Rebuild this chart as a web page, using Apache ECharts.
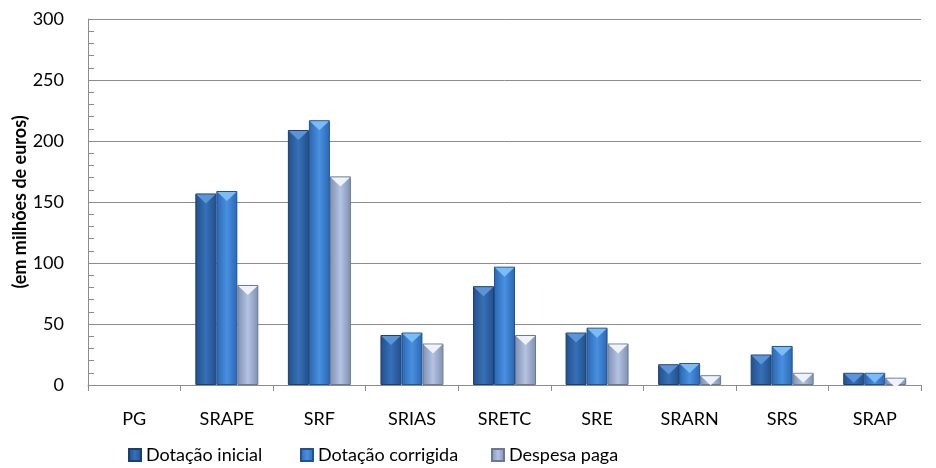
<!DOCTYPE html>
<html>
<head>
<meta charset="utf-8">
<script src="https://cdn.jsdelivr.net/npm/echarts@6/dist/echarts.min.js"></script>
<style>
  html, body { margin: 0; padding: 0; background: #fff; }
  #chart { width: 936px; height: 468px; }
</style>
</head>
<body>
<div id="chart"></div>
<script>
var categorias = ['PG', 'SRAPE', 'SRF', 'SRIAS', 'SRETC', 'SRE', 'SRARN', 'SRS', 'SRAP'];
var dotacaoInicial   = [0, 157, 209, 41, 81, 43, 17, 25, 10];
var dotacaoCorrigida = [0, 159, 217, 43, 97, 47, 18, 32, 10];
var despesaPaga      = [0, 82, 171, 34, 41, 34, 8, 10, 6];

var chart = echarts.init(document.getElementById('chart'));
var fonte = 'Lato, "Liberation Sans", sans-serif';

// gradiente horizontal para imitar o bisel
function bisel(borda, meio) {
    return new echarts.graphic.LinearGradient(0, 0, 1, 0, [
        { offset: 0, color: borda },
        { offset: 0.5, color: meio },
        { offset: 1, color: borda }
    ]);
}

function serieBarra(nome, dados, borda, meio, contorno) {
    return {
        name: nome,
        type: 'bar',
        // barras a zero ficam sem contorno
        data: dados.map(function (v) {
            return v > 0 ? v : { value: v, itemStyle: { borderWidth: 0, opacity: 0 } };
        }),
        barWidth: 21,
        barGap: '0%',
        itemStyle: { color: bisel(borda, meio), borderColor: contorno, borderWidth: 1 }
    };
}

// triângulo claro no topo de cada barra
function serieTopo(nome, dados, cor) {
    return {
        name: nome,
        type: 'pictorialBar',
        data: dados.map(function (v) { return v > 0 ? v : '-'; }),
        barWidth: 21,
        barGap: '0%',
        symbol: 'path://M0,0 L10,0 L5,4 Z',
        symbolSize: [19, 9],
        symbolPosition: 'end',
        symbolOffset: [0, 1],
        itemStyle: { color: cor },
        silent: true,
        z: 3
    };
}

var option = {
    animation: false,
    grid: { left: 88, right: 15, top: 19, bottom: 83, outerBoundsMode: 'none' },
    legend: [
        { data: ['Dotação inicial'], left: 123 },
        { data: ['Dotação corrigida'], left: 295 },
        { data: ['Despesa paga'], left: 486 }
    ].map(function (l) {
        l.top = 441;
        l.icon = 'rect';
        l.itemWidth = 12;
        l.itemHeight = 12;
        l.itemGap = 4;
        l.textStyle = { fontFamily: fonte, fontSize: 18, color: '#000' };
        return l;
    }),
    xAxis: {
        type: 'category',
        data: categorias,
        axisLine: { lineStyle: { color: '#8c8c8c', width: 1 } },
        axisTick: { show: true, length: 6, lineStyle: { color: '#8c8c8c' } },
        axisLabel: { fontFamily: fonte, fontSize: 18, color: '#000', margin: 25 }
    },
    yAxis: {
        type: 'value',
        min: 0,
        max: 300,
        interval: 50,
        name: '(em milhões de euros)',
        nameLocation: 'middle',
        nameGap: 59,
        nameMoveOverlap: false,
        nameTextStyle: { fontFamily: fonte, fontSize: 18, fontWeight: 'bold', color: '#000' },
        axisLine: { show: true, lineStyle: { color: '#8c8c8c', width: 1 } },
        axisTick: { show: true, inside: true, length: 6, lineStyle: { color: '#8c8c8c' } },
        minorTick: { show: true, splitNumber: 5, length: 6, lineStyle: { color: '#8c8c8c' } },
        splitLine: { lineStyle: { color: '#8c8c8c', width: 1 } },
        axisLabel: { fontFamily: fonte, fontSize: 18, color: '#000', margin: 24 }
    },
    series: [
        serieBarra('Dotação inicial', dotacaoInicial, '#234f8a', '#3670b8', '#1c3f70'),
        serieBarra('Dotação corrigida', dotacaoCorrigida, '#2b66b2', '#4890e0', '#21528f'),
        serieBarra('Despesa paga', despesaPaga, '#7f8fb0', '#b4c3e2', '#6a7896'),
        serieTopo('t1', dotacaoInicial, '#5b95d8'),
        serieTopo('t2', dotacaoCorrigida, '#7cbcf5'),
        serieTopo('t3', despesaPaga, '#eef3ff')
    ]
};

chart.setOption(option);
</script>
</body>
</html>
